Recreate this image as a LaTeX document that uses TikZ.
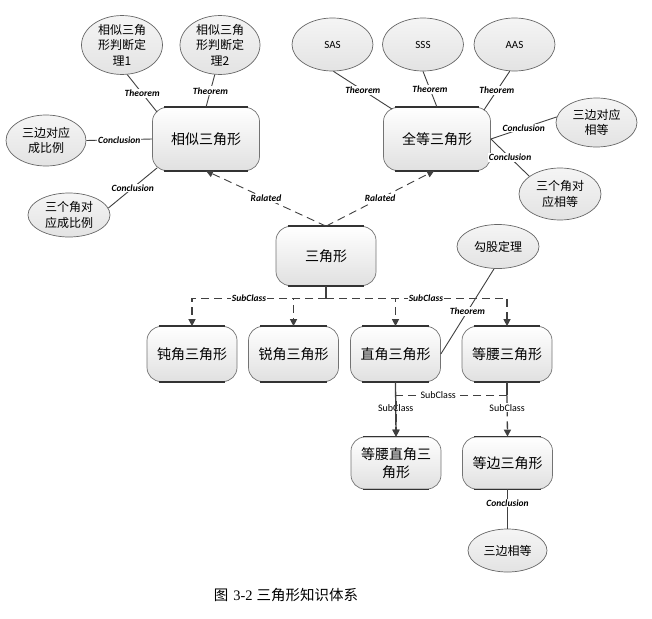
\documentclass[tikz,border=0pt]{standalone}
\usepackage{fontspec}
\setmainfont{Carlito}
\newfontfamily\cjk{Noto Sans CJK SC}
\newfontfamily\numfont{Liberation Serif}
\usetikzlibrary{shapes.geometric,arrows.meta,calc}

\begin{document}
\begin{tikzpicture}[x=1pt,y=-1pt,
  box/.style={rectangle, rounded corners=14pt, draw=black!55, line width=0.7pt,
    top color=white, bottom color=black!12, align=center, inner sep=2pt,
    font=\cjk\fontsize{14}{18}\selectfont},
  oval/.style={ellipse, draw=black!60, line width=0.7pt, inner sep=0pt,
    top color=black!4, bottom color=black!11, align=center,
    font=\cjk\fontsize{12}{15.5}\selectfont},
  latinoval/.style={oval, font=\fontsize{11}{13}\selectfont},
  topbar/.style={draw=black!80, line width=1.6pt},
  link/.style={draw=black!75, line width=0.9pt},
  sub/.style={draw=black!75, line width=1.3pt, dash pattern=on 8pt off 5pt},
  rel/.style={draw=black!75, line width=0.9pt, dash pattern=on 8pt off 5pt},
  tip/.style={-{Triangle[length=7pt,width=7pt]}},
  lab/.style={font=\fontsize{9.5}{11}\selectfont\bfseries\itshape, fill=white, inner sep=1pt},
  sublab/.style={font=\fontsize{10}{11}\selectfont, fill=white, inner sep=1pt},
  plainlab/.style={font=\fontsize{10}{11}\selectfont, inner sep=1pt}
]
\useasboundingbox (0,0) rectangle (652,618);

% main concept boxes
\node[box, minimum width=107pt, minimum height=63pt] (sim) at (206,139) {相似三角形};
\node[box, minimum width=107pt, minimum height=63pt] (con) at (437,139) {全等三角形};
\node[box, minimum width=100pt, minimum height=59pt] (tri) at (326,256) {三角形};
\node[box, minimum width=90pt, minimum height=55pt] (obt) at (192,354) {钝角三角形};
\node[box, minimum width=90pt, minimum height=55pt] (acu) at (293.5,354) {锐角三角形};
\node[box, minimum width=90pt, minimum height=55pt] (rig) at (395.5,354) {直角三角形};
\node[box, minimum width=90pt, minimum height=55pt] (iso) at (507,354) {等腰三角形};
\node[box, minimum width=90pt, minimum height=52pt] (irt) at (396,463) {等腰直角三\\角形};
\node[box, minimum width=90pt, minimum height=52pt] (equ) at (507.5,463) {等边三角形};

% heavier top and bottom edges of the boxes
\foreach \n in {sim,con,tri,obt,acu,rig,iso,irt,equ}{
  \draw[topbar] ([xshift=12pt]\n.north west) -- ([xshift=-12pt]\n.north east);
  \draw[topbar] ([xshift=12pt]\n.south west) -- ([xshift=-12pt]\n.south east);
}

% theorems and conclusions
\node[oval, minimum width=81pt, minimum height=53pt] (e1) at (122,45) {相似三角\\形判断定\\理1};
\node[oval, minimum width=80pt, minimum height=53pt] (e2) at (220,45) {相似三角\\形判断定\\理2};
\node[oval, minimum width=80pt, minimum height=51pt] (c1) at (46,140.5) {三边对应\\成比例};
\node[oval, minimum width=82pt, minimum height=44pt] (c2) at (69,215) {三个角对\\应成比例};
\node[latinoval, minimum width=81pt, minimum height=53pt] (sas) at (332.5,44.5) {SAS};
\node[latinoval, minimum width=81pt, minimum height=53pt] (sss) at (423,44.5) {SSS};
\node[latinoval, minimum width=81pt, minimum height=53pt] (aas) at (514.5,44.5) {AAS};
\node[oval, minimum width=81pt, minimum height=49pt] (ce1) at (596.5,122.5) {三边对应\\相等};
\node[oval, minimum width=82pt, minimum height=52pt] (ce2) at (560,194) {三个角对\\应相等};
\node[oval, minimum width=82pt, minimum height=44pt] (gou) at (498,246.5) {勾股定理};
\node[oval, minimum width=79pt, minimum height=43pt] (e3) at (507.5,550.5) {三边相等};

% similar triangles
\draw[link] (e1.-80) -- node[lab] {Theorem} ($(sim.north west)+(5,5)$);
\draw[link] (e2.-100) -- node[lab] {Theorem} (sim.north);
\draw[link] (c1.east) -- node[lab] {Conclusion} (sim.west);
\draw[link] (c2.10) -- node[lab] {Conclusion} ($(sim.south west)+(5,-3)$);

% congruent triangles
\draw[link] (sas.-88) -- node[lab] {Theorem} ($(con.north west)+(9,2)$);
\draw[link] (sss.-90) -- node[lab] {Theorem} (con.north);
\draw[link] (aas.-100) -- node[lab] {Theorem} ($(con.north east)+(-7,3)$);
\draw[link] (ce1.172) -- node[lab] {Conclusion} (con.east);
\draw[link] (ce2.150) -- node[lab] {Conclusion} (con.east);

% related concepts
\draw[rel, tip] (tri.north) -- node[lab] {Ralated} (sim.south);
\draw[rel, tip] (tri.north) -- node[lab] {Ralated} (con.-95);

% subclasses of triangle
\coordinate (bus) at ($(tri.south)+(0,12.5)$);
\draw[link, line width=1.3pt] (tri.south) -- (bus);
\draw[sub, tip] (bus) -| node[lab, pos=0.287] {SubClass} (obt.north);
\draw[sub, tip] (bus) -| (acu.north);
\draw[sub, tip] (bus) -| (rig.north);
\draw[sub, tip] (bus) -| node[lab, pos=0.276] {SubClass} (iso.north);

% right triangle
\draw[link] (gou.-100) -- node[lab] {Theorem} (rig.east);
\draw[link, line width=1.3pt, tip] (rig.south) -- node[plainlab, pos=0.47] {SubClass} (irt.north);

% isosceles triangle
\coordinate (bus2) at ($(iso.south)+(0,13.5)$);
\draw[link, line width=1.3pt] (iso.south) -- (bus2);
\draw[sub, tip] (bus2) -| node[sublab, pos=0.31] {SubClass} (irt.north);
\draw[sub, tip] (bus2) -- node[sublab, pos=0.3] {SubClass} (equ.north);

% equilateral triangle
\draw[link] (equ.south) -- node[lab, pos=0.35] {Conclusion} (e3.north);

% caption
\node[font=\fontsize{14.5}{17}\selectfont] (cap) at (286,595)
  {{\cjk 图}\hspace{5pt}{\numfont 3-2}\hspace{4pt}{\cjk 三角形知识体系}};
\end{tikzpicture}
\end{document}
